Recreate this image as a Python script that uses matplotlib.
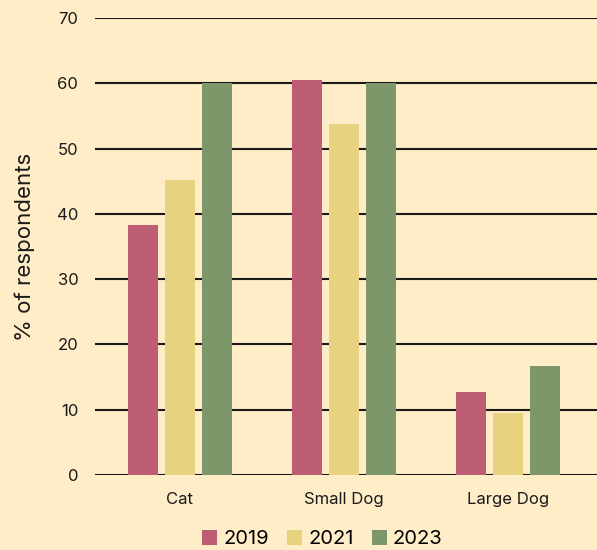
import matplotlib.pyplot as plt
import numpy as np

categories = ["Cat", "Small Dog", "Large Dog"]
years = ["2019", "2021", "2023"]
values_2019 = [38.3, 60.5, 12.7]
values_2021 = [45.2, 53.8, 9.5]
values_2023 = [60.1, 60.1, 16.7]
yticks = [0, 10, 20, 30, 40, 50, 60, 70]

colors = ["#BC5D73", "#E6D27F", "#7D976A"]
bg = "#FFEDC8"

plt.rcParams['font.family'] = ['Inter', 'DejaVu Sans']

fig = plt.figure(figsize=(5.97, 5.5), dpi=100, facecolor=bg)
ax = fig.add_axes([95 / 597, 1 - 475 / 550, 1 - 95 / 597, (475 - 18) / 550])
ax.set_facecolor(bg)

x = np.arange(len(categories))
width = 0.183
offset = 0.223
for i, (vals, lab) in enumerate(zip([values_2019, values_2021, values_2023], years)):
    ax.bar(x + (i - 1) * offset, vals, width, color=colors[i], label=lab, zorder=3)

ax.set_ylim(0, 70)
ax.set_xlim(-0.518, 2.543)
ax.set_yticks(yticks)
ax.set_xticks(x)
ax.set_xticklabels(categories)
ax.grid(axis="y", color="#1a1a1a", linewidth=1.5, zorder=0)
ax.tick_params(length=0, labelsize=12, colors="#1a1a1a")
ax.tick_params(axis="y", pad=12)
ax.tick_params(axis="x", pad=12)
for s in ax.spines.values():
    s.set_visible(False)
ax.set_ylabel("% of respondents", fontsize=16, color="#1a1a1a", labelpad=16)

leg = fig.legend(loc="lower center", bbox_to_anchor=(0.54, -0.03), ncol=3, frameon=False,
                 fontsize=14.5, handlelength=0.75, handleheight=0.75, handletextpad=0.3,
                 columnspacing=0.9)

fig.savefig("out.png", dpi=100, facecolor=bg)
